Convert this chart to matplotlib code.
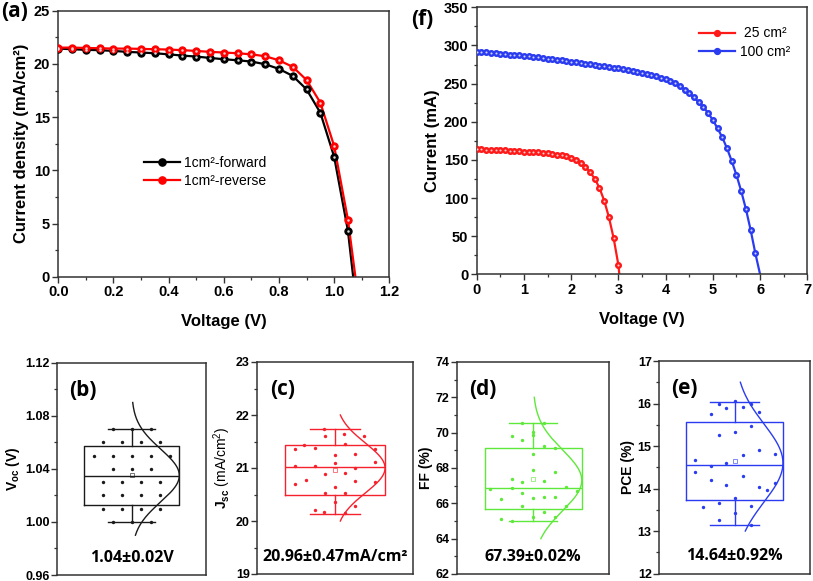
import numpy as np
import matplotlib
matplotlib.use("Agg")
import matplotlib.pyplot as plt
from matplotlib.ticker import MultipleLocator

plt.rcParams['font.family'] = ['Liberation Sans', 'DejaVu Sans']
plt.rcParams['mathtext.fontset'] = 'custom'
plt.rcParams['mathtext.rm'] = 'Liberation Sans'
plt.rcParams['mathtext.it'] = 'Liberation Sans:italic'
plt.rcParams['mathtext.bf'] = 'Liberation Sans:bold'

# ---------------- Panel (a) data ----------------
a_voltage = [0.00, 0.05, 0.10, 0.15, 0.20, 0.25, 0.30, 0.35, 0.40, 0.45, 0.50,
             0.55, 0.60, 0.65, 0.70, 0.75, 0.80, 0.85, 0.90, 0.95, 1.00, 1.05]
a_forward = [21.44, 21.38, 21.32, 21.29, 21.22, 21.13, 21.07, 21.00, 20.90, 20.78, 20.69,
             20.56, 20.44, 20.34, 20.22, 19.97, 19.53, 18.87, 17.61, 15.41, 11.28, 4.32]
a_reverse = [21.53, 21.53, 21.50, 21.47, 21.44, 21.44, 21.41, 21.38, 21.35, 21.29, 21.22,
             21.13, 21.07, 21.00, 20.90, 20.72, 20.34, 19.72, 18.49, 16.36, 12.28, 5.36]
a_voc = {"forward": 1.069, "reverse": 1.077}
a_labels = ["1cm\u00b2-forward", "1cm\u00b2-reverse"]

# ---------------- Panel (f) data ----------------
f_v25 = [round(0.1 * i, 1) for i in range(31)]
f_i25 = [163.8, 163.6, 163.4, 163.2, 162.9, 162.6, 162.3, 162.0, 161.6, 161.2,
         160.8, 160.5, 160.1, 159.7, 159.3, 158.8, 158.0, 157.0, 156.0, 154.7,
         152.8, 150.2, 146.3, 141.0, 133.7, 125.3, 113.1, 96.5, 74.7, 47.2, 12.2]
f_voc25 = 3.02
f_v100 = [round(0.1 * i, 1) for i in range(60)]
f_i100 = [291.8, 291.3, 290.8, 290.3, 289.8, 289.3, 288.7, 288.1, 287.5, 286.9,
          286.3, 285.6, 284.9, 284.2, 283.4, 282.7, 281.9, 281.1, 280.3, 279.5,
          278.7, 277.9, 277.1, 276.2, 275.3, 274.4, 273.6, 272.7, 271.8, 270.9,
          270.0, 268.9, 267.8, 266.7, 265.6, 264.4, 263.0, 261.5, 259.8, 257.9,
          255.8, 253.4, 250.5, 246.8, 242.2, 237.2, 232.0, 225.8, 219.3, 211.4,
          202.2, 191.3, 179.5, 165.1, 148.5, 130.1, 109.2, 85.6, 58.1, 27.5]
f_voc100 = 6.0
f_labels = [" 25 cm\u00b2", "100 cm\u00b2"]

# ---------------- Box panels data ----------------
# (x offset within box, value)
voc_x = [-0.4, 0, 0.4,
         -0.6, -0.2, 0.2, 0.6,
         -0.8, -0.4, 0, 0.4, 0.8,
         -0.4, 0, 0.4,
         -0.6, -0.2, 0.2, 0.6,
         -0.6, -0.2, 0.2, 0.6,
         -0.6, -0.2, 0.2, 0.6,
         -0.4, 0, 0.4]
voc_y = [1.07, 1.07, 1.07,
         1.06, 1.06, 1.06, 1.06,
         1.05, 1.05, 1.05, 1.05, 1.05,
         1.04, 1.04, 1.04,
         1.03, 1.03, 1.03, 1.03,
         1.02, 1.02, 1.02, 1.02,
         1.01, 1.01, 1.01, 1.01,
         1.00, 1.00, 1.00]
voc_stats = dict(whislo=1.000, q1=1.0127, med=1.0348, q3=1.0575, whishi=1.070, mean=1.0355)
voc_fit = dict(mu=1.035, sigma=0.020, lo=0.99, hi=1.09)

jsc_x = [-0.22, -0.21, 0.18, 0.58, 0.19, -0.62, -0.81, -0.41, 0.80, 0.39,
         0.00, 0.79, 0.00, -0.81, -0.41, 0.39, -0.21, 0.19, -0.59, 0.39,
         -0.81, 0.79, 0.00, -0.21, 0.19, 0.00, 0.39, -0.41, -0.22, 0.19]
jsc_y = [21.73, 21.60, 21.64, 21.60, 21.46, 21.43, 21.35, 21.38, 21.35, 21.27,
         21.24, 21.12, 21.10, 21.04, 21.04, 21.00, 20.88, 20.90, 20.78, 20.76,
         20.69, 20.73, 20.64, 20.52, 20.52, 20.36, 20.29, 20.21, 20.17, 20.15]
jsc_stats = dict(whislo=20.14, q1=20.50, med=21.02, q3=21.43, whishi=21.73, mean=20.96)
jsc_fit = dict(mu=21.0, sigma=0.47, lo=20.0, hi=22.0)

ff_x = [-0.22, 0.22, -0.44, 0.00, 0.00, -0.22, 0.22, 0.44, 0.00, 0.00,
        0.44, -0.44, -0.22, 0.22, -0.89, -0.44, 0.67, 0.90, -0.22, -0.66,
        0.00, 0.22, 0.44, 0.67, -0.22, 0.22, 0.00, 0.44, -0.66, -0.44]
ff_y = [70.52, 70.52, 69.80, 70.03, 69.84, 69.58, 69.24, 69.14, 68.78, 67.88,
        67.78, 67.35, 67.20, 67.25, 66.82, 66.87, 66.91, 66.70, 66.59, 66.22,
        66.32, 66.35, 66.35, 65.86, 65.86, 65.50, 65.21, 65.21, 65.13, 64.99]
ff_stats = dict(whislo=64.98, q1=65.66, med=66.89, q3=69.14, whishi=70.54, mean=67.39)
ff_fit = dict(mu=67.3, sigma=1.72, lo=64.0, hi=72.0)

pce_x = [-0.33, 0.00, -0.17, 0.17, 0.33, -0.49, 0.50, 0.33, -0.33, 0.00,
         0.50, 0.17, 0.83, -0.83, -0.17, -0.49, -0.83, 0.17, -0.49, -0.17,
         0.50, 0.66, 0.83, 0.00, -0.66, -0.33, 0.33, 0.00, -0.33, 0.33]
pce_y = [16.00, 16.05, 15.90, 15.92, 16.00, 15.76, 15.81, 15.47, 15.27, 15.34,
         14.90, 14.79, 14.82, 14.68, 14.59, 14.52, 14.38, 14.30, 14.20, 14.09,
         14.03, 13.96, 14.12, 13.78, 13.57, 13.66, 13.60, 13.42, 13.27, 13.14]
pce_stats = dict(whislo=13.13, q1=13.73, med=14.55, q3=15.56, whishi=16.04, mean=14.64)
pce_fit = dict(mu=14.6, sigma=0.92, lo=13.0, hi=16.5)

W, H = 813, 581
fig = plt.figure(figsize=(W / 100, H / 100), dpi=100)

TAGFONT = ['Open Sans', 'DejaVu Sans']


def add_ax(l, t, r, b):
    return fig.add_axes([l / W, 1 - b / H, (r - l) / W, (b - t) / H])


SPINE = '#333333'


def style_main(ax):
    for s in ax.spines.values():
        s.set_color(SPINE)
        s.set_linewidth(1.1)
    ax.tick_params(which='major', direction='out', length=4, width=1, color=SPINE,
                   labelsize=10.5, pad=2)
    ax.tick_params(which='minor', direction='out', length=2.2, width=0.9, color=SPINE)
    for lab in ax.get_xticklabels() + ax.get_yticklabels():
        lab.set_fontweight('bold')


def ball_plot(ax, x, y, color, light, ms, xend, label):
    ax.plot(list(x) + [xend], list(y) + [0], color=color, lw=1.6, zorder=2)
    ax.plot(x, y, ls='none', marker='o', ms=ms, mfc=color, mec=color, mew=0.8, zorder=3)
    ax.plot(x, y, ls='none', marker='o', ms=ms * 0.35, mfc=light, mec=light, mew=0, zorder=4)
    # legend proxy
    ax.plot([], [], color=color, lw=1.6, marker='o', ms=ms, mfc=color, mec=color, label=label)


# ---------------- Panel (a) ----------------
axa = add_ax(58.3, 10.7, 389.3, 276.7)
ball_plot(axa, a_voltage, a_forward, 'black', '#d9d9d9', 5.2, a_voc["forward"], a_labels[0])
ball_plot(axa, a_voltage, a_reverse, '#ff0000', '#ffd0d0', 5.2, a_voc["reverse"], a_labels[1])
axa.set_xlim(0, 1.2)
axa.set_ylim(0, 25)
axa.xaxis.set_major_locator(MultipleLocator(0.2))
axa.xaxis.set_minor_locator(MultipleLocator(0.1))
axa.yaxis.set_major_locator(MultipleLocator(5))
axa.yaxis.set_minor_locator(MultipleLocator(2.5))
axa.xaxis.set_major_formatter(plt.FormatStrFormatter('%.1f'))
style_main(axa)
axa.set_xlabel('Voltage (V)', fontsize=12, fontweight='bold', labelpad=11)
axa.set_ylabel('Current density (mA/cm\u00b2)', fontsize=12, fontweight='bold', labelpad=3)
axa.legend(loc='center left', bbox_to_anchor=(0.22, 0.395), frameon=False, fontsize=10,
           handlelength=2.6, handletextpad=0.3, labelspacing=0.3)
fig.text(1 / W, 1 - 1 / H, '(a)', fontsize=15, fontweight='bold', va='top', ha='left',
         family=TAGFONT)

# ---------------- Panel (f) ----------------
axf = add_ax(476.7, 7.3, 807.3, 274.3)
ball_plot(axf, f_v25, f_i25, '#ff1a1a', '#ffd0d0', 4.2, f_voc25, f_labels[0])
ball_plot(axf, f_v100, f_i100, '#2b3cf0', '#d0d6ff', 4.2, f_voc100, f_labels[1])
axf.set_xlim(0, 7)
axf.set_ylim(0, 350)
axf.xaxis.set_major_locator(MultipleLocator(1))
axf.xaxis.set_minor_locator(MultipleLocator(0.5))
axf.yaxis.set_major_locator(MultipleLocator(50))
axf.yaxis.set_minor_locator(MultipleLocator(25))
style_main(axf)
axf.set_xlabel('Voltage (V)', fontsize=12, fontweight='bold', labelpad=11)
axf.set_ylabel('Current (mA)', fontsize=12, fontweight='bold', labelpad=3)
axf.legend(loc='upper right', bbox_to_anchor=(0.985, 0.975), frameon=False, fontsize=10,
           handlelength=2.6, handletextpad=0.3, labelspacing=0.3)
fig.text(411 / W, 1 - 9 / H, '(f)', fontsize=15, fontweight='bold', va='top', ha='left',
         family=TAGFONT)


# ---------------- Box panels ----------------
def box_panel(rect, xs, ys, stats, fit, color, ylim, major, minor, fmt, ylabel, tag, note,
              ylabel_kw):
    ax = add_ax(*rect)
    st = dict(stats)
    st['fliers'] = []
    ax.bxp([st], positions=[0], widths=2.0, capwidths=[1.0], showmeans=True,
           showfliers=False, patch_artist=False,
           boxprops=dict(color=color, lw=1.0),
           whiskerprops=dict(color=color, lw=1.0),
           capprops=dict(color=color, lw=1.0),
           medianprops=dict(color=color, lw=1.0),
           meanprops=dict(marker='s', ms=3, mfc='none', mec=color, mew=0.6, alpha=0.7))
    ax.scatter(xs, ys, s=6, color=color, zorder=3, linewidths=0)
    yy = np.linspace(fit['lo'], fit['hi'], 200)
    xx = np.exp(-(yy - fit['mu']) ** 2 / (2 * fit['sigma'] ** 2))
    ax.plot(xx, yy, color=color, lw=1.0)
    ax.set_xlim(-1.56, 1.56)
    ax.set_ylim(*ylim)
    ax.set_xticks([])
    ax.yaxis.set_major_locator(MultipleLocator(major))
    ax.yaxis.set_minor_locator(MultipleLocator(minor))
    ax.yaxis.set_major_formatter(plt.FormatStrFormatter(fmt))
    for s in ax.spines.values():
        s.set_color(SPINE)
        s.set_linewidth(1.1)
    ax.tick_params(axis='y', which='major', direction='out', length=4, width=1, color=SPINE,
                   labelsize=9, pad=1.5)
    ax.tick_params(axis='y', which='minor', direction='out', length=2.2, width=0.9, color=SPINE)
    for lab in ax.get_yticklabels():
        lab.set_fontweight('bold')
    ax.set_ylabel(ylabel, labelpad=2, **ylabel_kw)
    ax.text(0.08, 0.87, tag, transform=ax.transAxes, fontsize=15, fontweight='bold',
            va='center', ha='left', family=TAGFONT)
    ax.text(0.5, 0.08, note, transform=ax.transAxes, fontsize=11.5, fontweight='bold',
            va='center', ha='center', family=TAGFONT)
    return ax


bold_lab = dict(fontsize=10, fontweight='bold')
box_panel((57.3, 362.7, 206.0, 575.0), voc_x, voc_y, voc_stats, voc_fit, '#1a1a1a',
          (0.96, 1.12), 0.04, 0.02, '%.2f', r'$\mathbf{V_{oc}}$ (V)', '(b)',
          '1.04\u00b10.02V', bold_lab)
box_panel((257.3, 362.0, 413.0, 574.0), jsc_x, jsc_y, jsc_stats, jsc_fit, '#f5222d',
          (19, 23), 1, 0.5, '%d', r'$\mathbf{J_{sc}}$ (mA/cm$^2$)', '(c)',
          '20.96\u00b10.47mA/cm\u00b2', dict(fontsize=10))
box_panel((457.3, 362.0, 609.0, 574.0), ff_x, ff_y, ff_stats, ff_fit, '#5ee83a',
          (62, 74), 2, 1, '%d', 'FF (%)', '(d)', '67.39\u00b10.02%', bold_lab)
box_panel((659.3, 361.0, 810.0, 573.5), pce_x, pce_y, pce_stats, pce_fit, '#2a3cf0',
          (12, 17), 1, 0.5, '%d', 'PCE (%)', '(e)', '14.64\u00b10.92%', bold_lab)

fig.savefig('out.png', dpi=100)
